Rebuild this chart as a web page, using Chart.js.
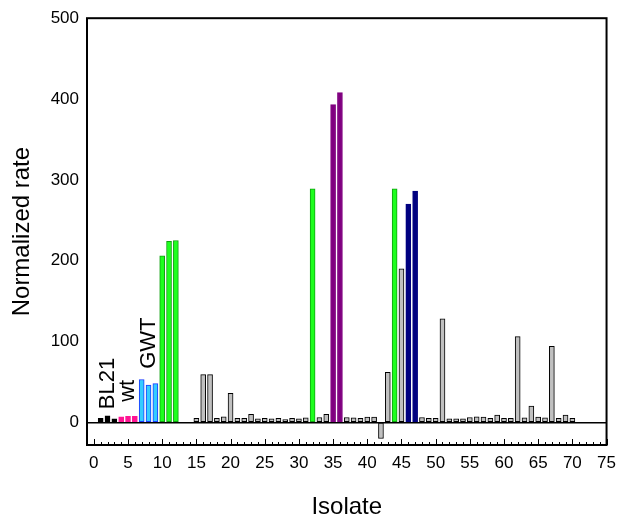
<!DOCTYPE html>
<html>
<head>
<meta charset="utf-8">
<script src="https://cdn.jsdelivr.net/npm/chart.js@4.4.1/dist/chart.umd.min.js"></script>
<style>
  html, body { margin: 0; padding: 0; background: #fff; }
  #wrap { width: 624px; height: 524px; }
</style>
</head>
<body>
<div id="wrap"><canvas id="chart" width="624" height="524"></canvas></div>
<script>
// ─── Data ────────────────────────────────────────────────────────
const isolates = [1, 2, 3, 4, 5, 6, 7, 8, 9, 10, 11, 12,
    15, 16, 17, 18, 19, 20, 21, 22, 23, 24, 25, 26, 27, 28, 29, 30,
    31, 32, 33, 34, 35, 36, 37, 38, 39, 40, 41, 42, 43, 44, 45, 46,
    47, 48, 49, 50, 51, 52, 53, 54, 55, 56, 57, 58, 59, 60, 61, 62,
    63, 64, 65, 66, 67, 68, 69, 70];
const rates = [5, 8, 4.5, 7, 7.5, 7.5, 53, 46, 48, 206, 224, 225,
    5, 59, 59, 5, 7, 36, 5, 5, 10, 4.5, 5, 4.5, 5, 3.5, 5, 4.5,
    5.5, 289, 6, 10, 393, 408, 6, 5.5, 5, 6.5, 6.5, -20, 62, 289, 190, 270,
    286, 6, 5, 5, 128, 4.5, 4.5, 4.5, 6, 7, 6.5, 5, 9, 5, 5, 106,
    5.5, 20, 6.5, 5.5, 94, 5, 9, 5];
const groups = ["bl21", "bl21", "bl21", "wt", "wt", "wt", "gwt", "gwt", "gwt", "green", "green", "green",
    "gray", "gray", "gray", "gray", "gray", "gray", "gray", "gray", "gray", "gray", "gray", "gray", "gray", "gray", "gray", "gray",
    "gray", "green", "gray", "gray", "purple", "purple", "gray", "gray", "gray", "gray", "gray", "gray", "gray", "green", "gray", "navy",
    "navy", "gray", "gray", "gray", "gray", "gray", "gray", "gray", "gray", "gray", "gray", "gray", "gray", "gray", "gray", "gray",
    "gray", "gray", "gray", "gray", "gray", "gray", "gray", "gray"];

const xTicks = [0, 5, 10, 15, 20, 25, 30, 35, 40, 45, 50, 55, 60, 65, 70, 75];
const yTicks = [0, 100, 200, 300, 400, 500];

// rotated group labels, placed in data units
const noteText = ["BL21", "wt", "GWT"];
const noteX = [2, 5, 8];
const noteY = [48, 39, 98];

const fills = {
    bl21: "#000000", wt: "#ff1493", gwt: "#33ccff", green: "#1eff1e",
    purple: "#800080", navy: "#000080", gray: "#c0c0c0",
};
const edges = {
    bl21: "#000000", wt: "#ff1493", gwt: "#1a3cff", green: "#10a010",
    purple: "#800080", navy: "#000080", gray: "#000000",
};

const FONT = "'Liberation Sans', Arial, sans-serif";

// ─── Frame, inner x ticks and group labels ───────────────────────
const framePlugin = {
    id: "frame",
    afterDatasetsDraw(chart) {
        const { ctx, chartArea: a, scales: { x, y } } = chart;
        ctx.save();

        // tick marks pointing up from the bottom axis
        ctx.strokeStyle = "#000";
        ctx.lineWidth = 1;
        for (let v = 0; v <= 75; v++) {
            const px = Math.round(x.getPixelForValue(v)) + 0.5;
            const len = v % 5 === 0 ? 6 : 3;
            ctx.beginPath();
            ctx.moveTo(px, a.bottom);
            ctx.lineTo(px, a.bottom - len);
            ctx.stroke();
        }

        // box
        ctx.lineWidth = 2;
        ctx.strokeRect(a.left, a.top, a.right - a.left, a.bottom - a.top);

        // labels
        ctx.fillStyle = "#000";
        ctx.font = "22px " + FONT;
        ctx.textAlign = "center";
        ctx.textBaseline = "middle";
        noteText.forEach((t, i) => {
            ctx.save();
            ctx.translate(x.getPixelForValue(noteX[i]), y.getPixelForValue(noteY[i]));
            ctx.rotate(-Math.PI / 2);
            ctx.fillText(t, 0, 0);
            ctx.restore();
        });
        ctx.restore();
    },
};

new Chart(document.getElementById("chart"), {
    type: "bar",
    data: {
        datasets: [{
            data: isolates.map((v, i) => ({ x: v, y: rates[i] })),
            backgroundColor: groups.map(g => fills[g]),
            borderColor: groups.map(g => edges[g]),
            borderWidth: 1,
            borderSkipped: false,
            barThickness: 5,
        }],
    },
    options: {
        responsive: false,
        animation: false,
        layout: { padding: { top: 14, right: 17, left: 0, bottom: 0 } },
        plugins: { legend: { display: false }, tooltip: { enabled: false } },
        scales: {
            x: {
                type: "linear",
                min: -1,
                max: 75,
                offset: false,
                grid: { display: false, drawTicks: false },
                border: { display: false },
                afterBuildTicks: s => { s.ticks = xTicks.map(v => ({ value: v })); },
                afterFit: s => { s.height = 79; },
                ticks: {
                    font: { size: 17, family: FONT },
                    color: "#000",
                    padding: 8,
                    maxRotation: 0,
                    autoSkip: false,
                },
                title: {
                    display: true,
                    text: "Isolate",
                    color: "#000",
                    font: { size: 24, family: FONT },
                    padding: { top: 0, bottom: 2 },
                },
            },
            y: {
                min: -28,
                max: 500,
                grid: {
                    drawTicks: false,
                    color: c => (c.tick && c.tick.value === 0 ? "#000" : "rgba(0,0,0,0)"),
                    lineWidth: 1.5,
                },
                border: { display: false },
                afterBuildTicks: s => { s.ticks = yTicks.map(v => ({ value: v })); },
                afterFit: s => { s.width = 87; },
                ticks: {
                    font: { size: 17, family: FONT },
                    color: "#000",
                    padding: 8,
                },
                title: {
                    display: true,
                    text: "Normalized rate",
                    color: "#000",
                    font: { size: 24, family: FONT },
                    padding: { top: 8, bottom: 0 },
                },
            },
        },
    },
    plugins: [framePlugin],
});
</script>
</body>
</html>
